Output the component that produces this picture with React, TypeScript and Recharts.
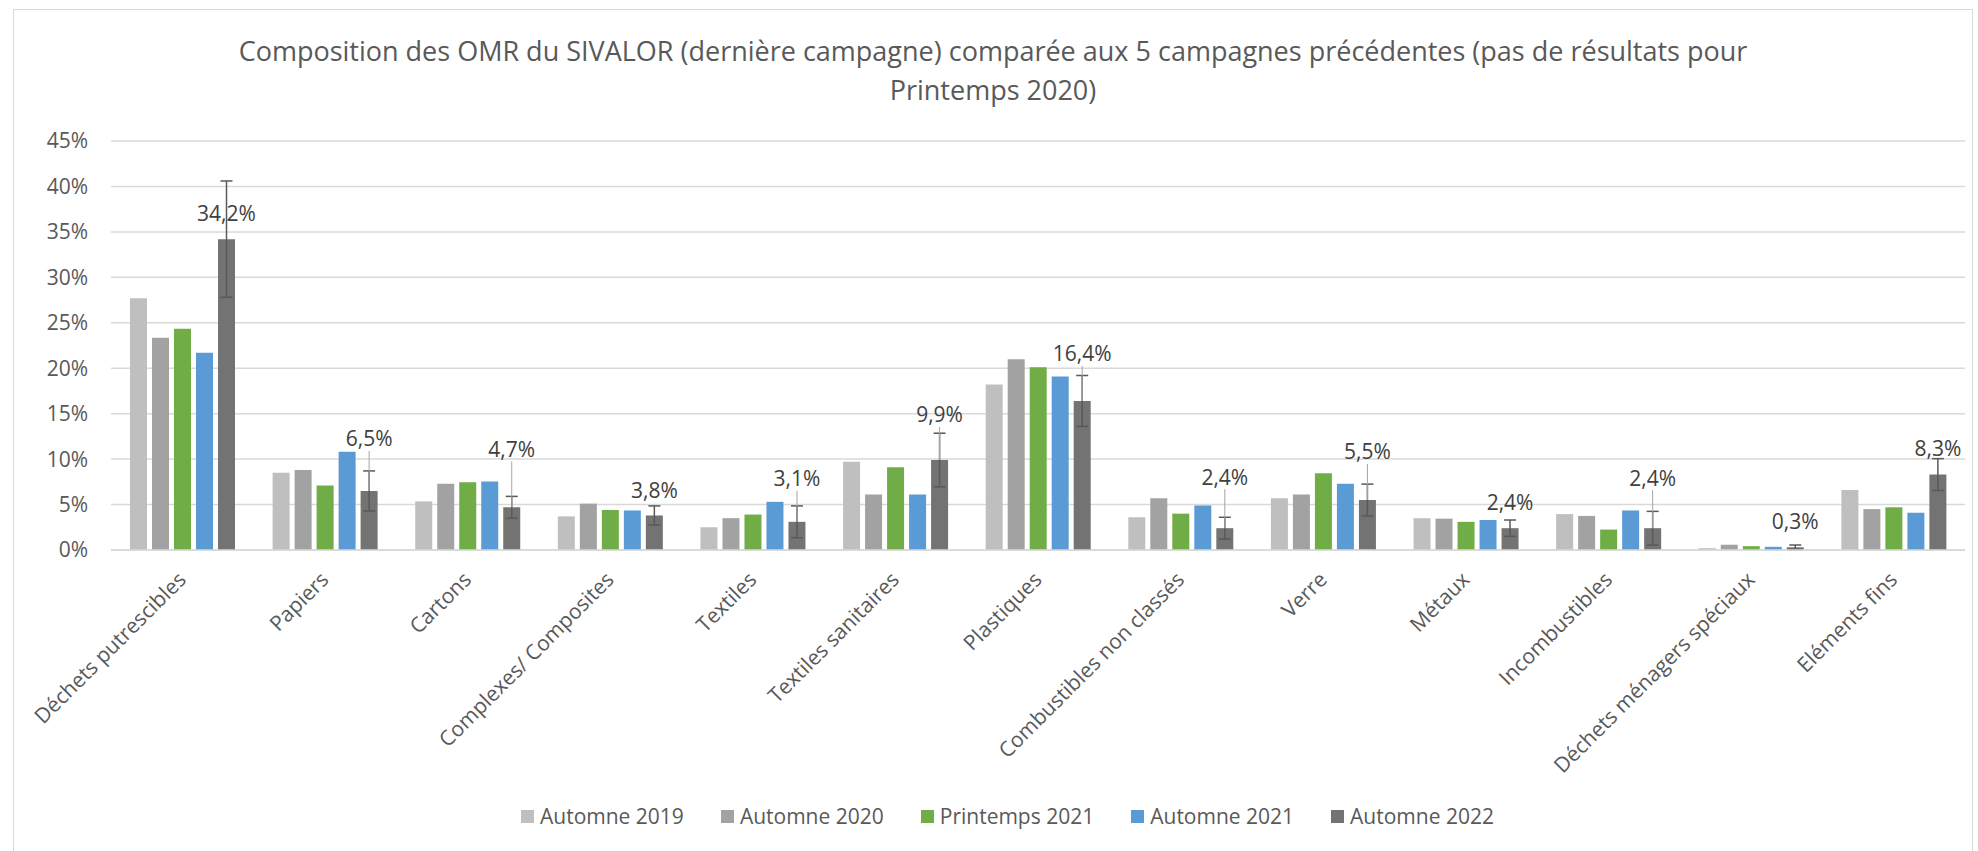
import React from 'react';
import { BarChart, Bar, XAxis, YAxis, CartesianGrid, Legend, ErrorBar, LabelList } from 'recharts';

const CATEGORIES = [
  'Déchets putrescibles',
  'Papiers',
  'Cartons',
  'Complexes/ Composites',
  'Textiles',
  'Textiles sanitaires',
  'Plastiques',
  'Combustibles non classés',
  'Verre',
  'Métaux',
  'Incombustibles',
  'Déchets ménagers spéciaux',
  'Eléments fins',
];

const AUTOMNE_2019 = [27.7, 8.5, 5.35, 3.7, 2.5, 9.7, 18.2, 3.6, 5.7, 3.5, 3.95, 0.2, 6.6];
const AUTOMNE_2020 = [23.35, 8.8, 7.3, 5.1, 3.5, 6.1, 21.0, 5.7, 6.1, 3.45, 3.75, 0.58, 4.5];
const PRINTEMPS_2021 = [24.35, 7.1, 7.45, 4.4, 3.9, 9.1, 20.1, 4.0, 8.45, 3.1, 2.25, 0.42, 4.7];
const AUTOMNE_2021 = [21.7, 10.8, 7.55, 4.35, 5.3, 6.1, 19.1, 4.9, 7.3, 3.3, 4.35, 0.35, 4.1];
const AUTOMNE_2022 = [34.2, 6.5, 4.7, 3.8, 3.1, 9.9, 16.4, 2.4, 5.5, 2.4, 2.4, 0.3, 8.3];
const ERREUR_2022 = [6.4, 2.2, 1.2, 1.05, 1.75, 2.95, 2.8, 1.2, 1.75, 0.9, 1.85, 0.25, 1.75];

const Y_TICKS = [0, 5, 10, 15, 20, 25, 30, 35, 40, 45];

const SERIES = [
  { key: 'a2019', name: 'Automne 2019', color: '#bfbfbf', values: AUTOMNE_2019 },
  { key: 'a2020', name: 'Automne 2020', color: '#a2a2a2', values: AUTOMNE_2020 },
  { key: 'p2021', name: 'Printemps 2021', color: '#70ad47', values: PRINTEMPS_2021 },
  { key: 'a2021', name: 'Automne 2021', color: '#5b9bd5', values: AUTOMNE_2021 },
  { key: 'a2022', name: 'Automne 2022', color: '#737373', values: AUTOMNE_2022 },
];

const data = CATEGORIES.map((name, i) => {
  const row: Record<string, any> = { name, err: ERREUR_2022[i] };
  SERIES.forEach((s) => {
    row[s.key] = s.values[i];
  });
  return row;
});

// how far (px) each data label sits above its bar, as placed by hand in the original
const LABEL_LIFT = [26, 52, 58, 25, 43, 45, 47, 51, 48, 26, 50, 26, 26];

const FONT = "'Open Sans', sans-serif";
const TEXT = '#595959';
const GRID = '#d9d9d9';

const fmtPct = (v: number) => `${v.toFixed(1).replace('.', ',')}%`;

function CategoryTick({ x, y, payload }: any) {
  return (
    <g transform={`translate(${x + 5},${y + 31})`}>
      <text textAnchor="end" transform="rotate(-45)" fill={TEXT} fontSize={21} fontFamily={FONT}>
        {payload.value}
      </text>
    </g>
  );
}

const renderLabel = (props: any) => {
  const { x, y, width, index, value } = props;
  const cx = x + width / 2;
  const lift = LABEL_LIFT[index] ?? 26;
  const ly = y - lift;
  return (
    <g>
      {lift > 35 && <line x1={cx} y1={ly + 12} x2={cx} y2={y} stroke="#a6a6a6" strokeWidth={1} />}
      <text x={cx} y={ly} dy="0.35em" textAnchor="middle" fill="#404040" fontSize={21} fontFamily={FONT}>
        {fmtPct(value)}
      </text>
    </g>
  );
};

const renderLegend = () => (
  <div style={{ display: 'flex', alignItems: 'center', fontFamily: FONT, fontSize: 21, color: TEXT }}>
    {SERIES.map((s, i) => (
      <div key={s.key} style={{ display: 'flex', alignItems: 'center', marginRight: i < SERIES.length - 1 ? 37 : 0 }}>
        <span style={{ width: 13, height: 13, background: s.color, marginRight: 6, display: 'inline-block' }} />
        <span style={{ whiteSpace: 'nowrap' }}>{s.name}</span>
      </div>
    ))}
  </div>
);

export default function App() {
  return (
    <div style={{ position: 'absolute', left: 0, top: 0, width: 1978, height: 851, background: '#fff', overflow: 'hidden' }}>
      <div style={{ position: 'absolute', left: 13, top: 9, width: 1960, height: 860, border: `1px solid ${GRID}`, boxSizing: 'border-box' }} />
      <div
        style={{
          position: 'absolute',
          left: 13,
          top: 31,
          width: 1960,
          textAlign: 'center',
          fontFamily: FONT,
          fontSize: 27,
          lineHeight: '39px',
          color: TEXT,
        }}
      >
        Composition des OMR du SIVALOR (dernière campagne) comparée aux 5 campagnes précédentes (pas de résultats pour
        <br />
        Printemps 2020)
      </div>
      <div style={{ position: 'absolute', left: 0, top: 0 }}>
        <BarChart
          width={1978}
          height={851}
          data={data}
          margin={{ top: 141, right: 13, left: 0, bottom: 0 }}
          barCategoryGap={19}
          barGap={5}
        >
          <CartesianGrid vertical={false} stroke={GRID} strokeWidth={1.5} />
          <XAxis
            dataKey="name"
            interval={0}
            tickLine={false}
            tickSize={0}
            tickMargin={0}
            height={301}
            axisLine={{ stroke: GRID, strokeWidth: 1.5 }}
            tick={<CategoryTick />}
          />
          <YAxis
            width={111}
            domain={[0, 45]}
            ticks={Y_TICKS}
            axisLine={false}
            tickLine={false}
            tickSize={0}
            tickMargin={23}
            tickFormatter={(v: number) => `${v}%`}
            tick={{ fill: TEXT, fontSize: 21, fontFamily: FONT }}
          />
          <Legend
            layout="horizontal"
            verticalAlign="middle"
            align="center"
            content={renderLegend}
            wrapperStyle={{ top: 802, left: 521, width: 1100, height: 30 }}
          />
          {SERIES.map((s) =>
            s.key === 'a2022' ? (
              <Bar key={s.key} dataKey={s.key} name={s.name} fill={s.color} isAnimationActive={false}>
                <ErrorBar dataKey="err" direction="y" width={6} stroke="#595959" strokeWidth={1.5} />
                <LabelList dataKey={s.key} content={renderLabel} />
              </Bar>
            ) : (
              <Bar key={s.key} dataKey={s.key} name={s.name} fill={s.color} isAnimationActive={false} />
            )
          )}
        </BarChart>
      </div>
    </div>
  );
}
